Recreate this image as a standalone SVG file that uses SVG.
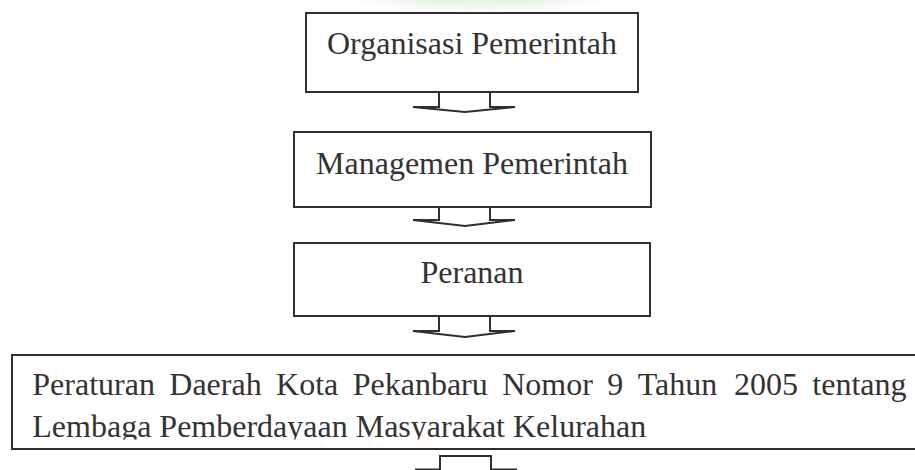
<svg xmlns="http://www.w3.org/2000/svg" width="915" height="470" viewBox="0 0 915 470">
  <style>
    .box { fill: #ffffff; stroke: #2f2f2f; stroke-width: 2; }
    .arrow { fill: #ffffff; stroke: #2f2f2f; stroke-width: 2; stroke-linejoin: miter; }
    .label { font-family: "Liberation Serif", "Times New Roman", serif; font-size: 32px; fill: #333333; }
    .mid { text-anchor: middle; }
  </style>
  <defs>
    <radialGradient id="wm" cx="0.5" cy="0.5" r="0.5">
      <stop offset="0" stop-color="#dcebd9"/>
      <stop offset="0.7" stop-color="#eaf4e8"/>
      <stop offset="1" stop-color="#ffffff" stop-opacity="0"/>
    </radialGradient>
    <clipPath id="bigclip">
      <rect x="12" y="356" width="910" height="83.5"/>
    </clipPath>
  </defs>
  <rect x="0" y="0" width="915" height="470" fill="#ffffff"/>
  <ellipse cx="480" cy="-25" rx="190" ry="42" fill="url(#wm)"/>

  <g id="connectors">
    <path class="arrow" d="M439,92 L439,107 L413,107 L465,112 L515,107 L490,107 L490,92"/>
    <path class="arrow" d="M439,207 L439,220 L413,220 L465,226 L515,220 L490,220 L490,207"/>
    <path class="arrow" d="M439,316 L439,331 L413,331 L465,337 L515,331 L490,331 L490,316"/>
    <path class="arrow" d="M440,456 L440,469.5 L415,469.5 L465,476 L517,469.5 L491,469.5 L491,456 Z"/>
  </g>

  <g id="node-organisasi">
    <rect class="box" x="306" y="13" width="332" height="79"/>
    <text class="label mid" x="472" y="54">Organisasi Pemerintah</text>
  </g>

  <g id="node-managemen">
    <rect class="box" x="294" y="132" width="357" height="75"/>
    <text class="label mid" x="472" y="174">Managemen Pemerintah</text>
  </g>

  <g id="node-peranan">
    <rect class="box" x="294" y="243" width="356" height="73"/>
    <text class="label mid" x="472" y="283">Peranan</text>
  </g>

  <g id="node-perda">
    <rect class="box" x="12" y="355" width="920" height="94"/>
    <g clip-path="url(#bigclip)">
      <text class="label" y="395"><tspan x="32.3">Peraturan</tspan><tspan x="169.3">Daerah</tspan><tspan x="276.1">Kota</tspan><tspan x="352.7">Pekanbaru</tspan><tspan x="502.2">Nomor</tspan><tspan x="607.3">9</tspan><tspan x="637.7">Tahun</tspan><tspan x="733.9">2005</tspan><tspan x="812.3">tentang</tspan></text>
      <text class="label" x="32.3" y="437">Lembaga Pemberdayaan Masyarakat Kelurahan</text>
    </g>
  </g>
</svg>
